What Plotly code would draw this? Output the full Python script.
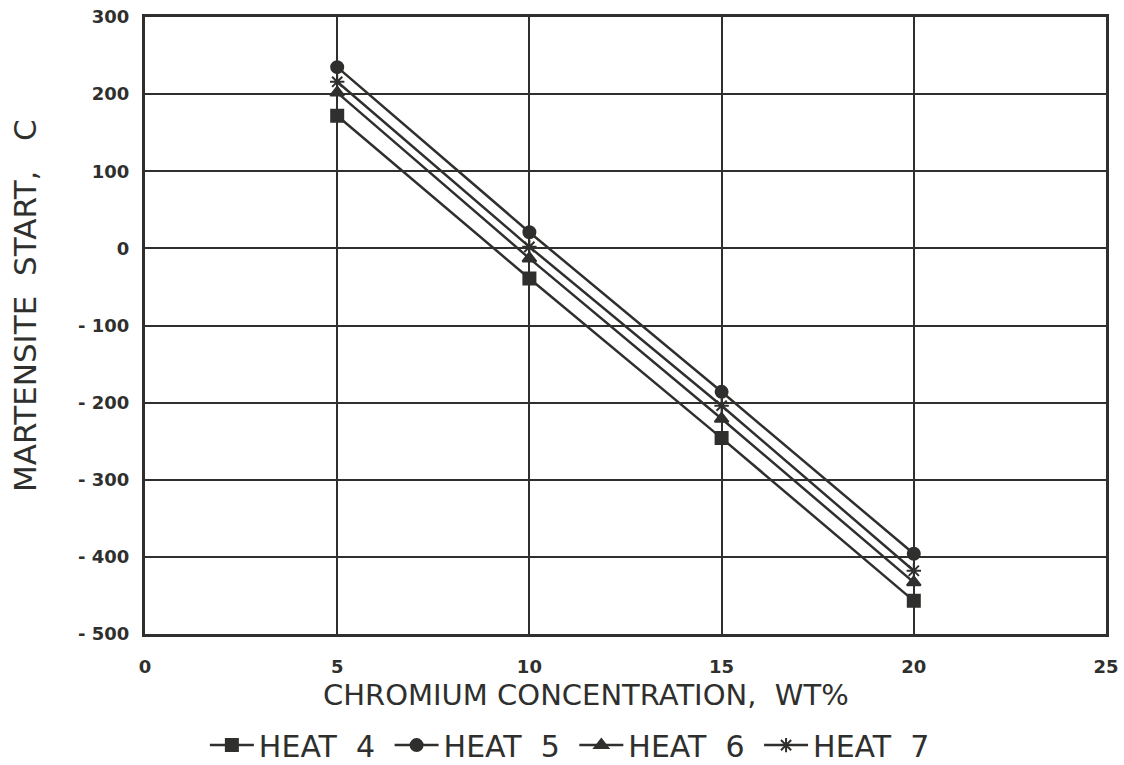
import plotly.graph_objects as go

# Chromium concentration (wt%) and martensite start temperatures (C)
chromium = [5, 10, 15, 20]
heat4 = [172, -39, -246, -457]
heat5 = [235, 21, -186, -396]
heat6 = [202, -13, -221, -433]
heat7 = [216, 2, -204, -418]

x_ticks = [0, 5, 10, 15, 20, 25]
y_ticks = [-500, -400, -300, -200, -100, 0, 100, 200, 300]
y_tick_text = [str(v).replace("-", "- ") if v < 0 else str(v) for v in y_ticks]

series = [
    ("HEAT  4 ", heat4, "square"),
    ("HEAT  5 ", heat5, "circle"),
    ("HEAT  6 ", heat6, "triangle-up"),
    ("HEAT  7", heat7, "asterisk-open"),
]

ink = "#2f302e"
fig = go.Figure()
for name, ys, sym in series:
    fig.add_trace(go.Scatter(
        x=chromium, y=ys, name=name, mode="lines+markers",
        line=dict(color=ink, width=2.5),
        marker=dict(symbol=sym, size=12, color=ink,
                    line=dict(color=ink, width=2)),
    ))

font_family = "DejaVu Sans, Liberation Sans, sans-serif"
fig.update_layout(
    width=1124, height=765,
    margin=dict(l=145, r=18, t=17, b=131, autoexpand=False),
    paper_bgcolor="white", plot_bgcolor="white",
    font=dict(family=font_family, color=ink, size=20),
    showlegend=True,
    legend=dict(orientation="h", x=0.507, y=0.026, xref="container",
                yref="container", xanchor="center", yanchor="middle",
                font=dict(size=30), itemwidth=44,
                tracegroupgap=0, traceorder="normal"),
    xaxis=dict(
        range=[0, 25], tickvals=x_ticks,
        showgrid=True, gridcolor=ink, gridwidth=2,
        showline=True, linecolor=ink, linewidth=3, mirror=True,
        zeroline=False, ticks="", ticklabelstandoff=14,
        tickfont=dict(size=18, color=ink, weight=600),
    ),
    yaxis=dict(
        range=[-500, 300], tickvals=y_ticks, ticktext=y_tick_text,
        showgrid=True, gridcolor=ink, gridwidth=2,
        showline=True, linecolor=ink, linewidth=3, mirror=True,
        zeroline=False, ticks="", ticklabelstandoff=9,
        tickfont=dict(size=18, color=ink, weight=600),
    ),
    annotations=[
        dict(text="CHROMIUM CONCENTRATION,  WT%", xref="paper", yref="paper",
             x=0.459, y=-0.099, xanchor="center", yanchor="middle",
             showarrow=False, font=dict(size=29, color=ink)),
        dict(text="MARTENSITE  START,   C", xref="paper", yref="paper",
             x=-0.125, y=0.533, xanchor="center", yanchor="middle",
             textangle=-90, showarrow=False, font=dict(size=31, color=ink)),
    ],
)

fig.write_html("out.html")
